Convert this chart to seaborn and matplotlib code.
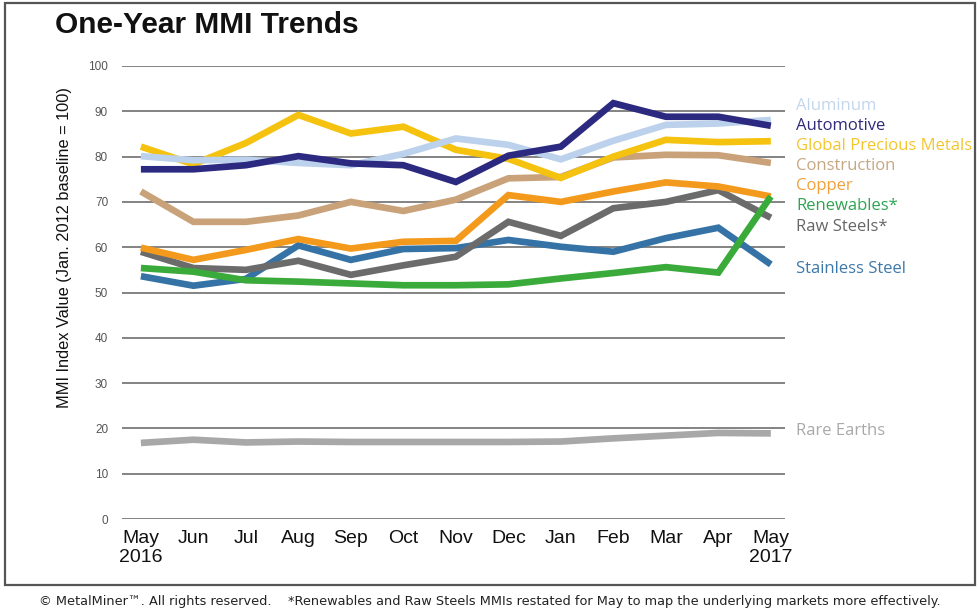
import numpy as np
import pandas as pd
import matplotlib
matplotlib.use("Agg")
import matplotlib.pyplot as plt
import seaborn as sns
from matplotlib import font_manager
from matplotlib.patches import Rectangle

# Datos (valores MMI, mayo 2016 - mayo 2017)
months = ['May\n2016', 'Jun', 'Jul', 'Aug', 'Sep', 'Oct', 'Nov', 'Dec',
          'Jan', 'Feb', 'Mar', 'Apr', 'May\n2017']

aluminum = [80.1, 79.2, 79.3, 78.6, 78.1, 80.6, 84.0, 82.6, 79.4, 83.5, 87.0, 87.3, 88.1]
automotive = [77.2, 77.2, 78.1, 80.1, 78.5, 78.1, 74.4, 80.2, 82.2, 91.8, 88.8, 88.8, 86.8]
precious_metals = [82.2, 78.3, 83.0, 89.2, 85.1, 86.6, 81.5, 79.5, 75.3, 80.0, 83.7, 83.2, 83.4]
construction = [72.3, 65.6, 65.6, 67.0, 70.0, 68.0, 70.5, 75.2, 75.5, 79.8, 80.4, 80.3, 78.6]
copper = [59.9, 57.2, 59.4, 61.8, 59.7, 61.2, 61.4, 71.5, 70.0, 72.3, 74.3, 73.4, 71.2]
renewables = [55.4, 54.6, 52.7, 52.4, 52.0, 51.6, 51.6, 51.8, 53.1, 54.3, 55.6, 54.4, 71.2]
raw_steels = [59.0, 55.4, 55.0, 57.0, 53.9, 56.0, 57.9, 65.6, 62.5, 68.6, 70.0, 72.6, 66.5]
stainless = [53.6, 51.5, 53.0, 60.4, 57.2, 59.6, 59.8, 61.6, 60.1, 59.0, 62.0, 64.3, 56.2]
rare_earths = [16.8, 17.5, 16.9, 17.1, 17.0, 17.0, 17.0, 17.0, 17.1, 17.8, 18.4, 19.0, 18.9]

series = {
    'Rare Earths': rare_earths,
    'Stainless Steel': stainless,
    'Raw Steels*': raw_steels,
    'Copper': copper,
    'Construction': construction,
    'Global Precious Metals': precious_metals,
    'Aluminum': aluminum,
    'Automotive': automotive,
    'Renewables*': renewables,
}

line_colors = {
    'Aluminum': '#bcd2ec',
    'Automotive': '#2c2a80',
    'Global Precious Metals': '#f4c20f',
    'Construction': '#c9a27a',
    'Copper': '#f39a1c',
    'Renewables*': '#3aab3a',
    'Raw Steels*': '#6b6b6b',
    'Stainless Steel': '#3573a6',
    'Rare Earths': '#a8a8a8',
}

label_colors = {
    'Aluminum': '#c4d6ec',
    'Automotive': '#2e2b7c',
    'Global Precious Metals': '#f3c62c',
    'Construction': '#c6a784',
    'Copper': '#f2a03a',
    'Renewables*': '#2ea451',
    'Raw Steels*': '#666666',
    'Stainless Steel': '#3d78a9',
    'Rare Earths': '#a9a9a9',
}

# posicion vertical (px desde arriba) de cada etiqueta a la derecha
label_rows = {
    'Aluminum': 106, 'Automotive': 126, 'Global Precious Metals': 146,
    'Construction': 166, 'Copper': 186, 'Renewables*': 206,
    'Raw Steels*': 227, 'Stainless Steel': 269, 'Rare Earths': 431,
}

df = pd.DataFrame([
    {'serie': name, 'mes': i, 'valor': v}
    for name, vals in series.items()
    for i, v in enumerate(vals)
])

sns.set_style('white')

installed = {f.name for f in font_manager.fontManager.ttflist}
narrow = 'Liberation Sans Narrow' in installed
cond_family = ['Liberation Sans Narrow', 'Liberation Sans'] if narrow else ['Liberation Sans']
plt.rcParams['font.family'] = ['Liberation Sans', 'DejaVu Sans']

W, H = 980, 610
fig = plt.figure(figsize=(W / 100, H / 100), dpi=100)
ax = fig.add_axes([122 / W, 91 / H, 663 / W, 453 / H])

sns.lineplot(data=df, x='mes', y='valor', hue='serie', hue_order=list(series.keys()),
             palette=line_colors, linewidth=4.8, legend=False, ax=ax)
for ln in ax.lines:
    ln.set_solid_capstyle('butt')
    ln.set_solid_joinstyle('miter')

ax.set_xlim(-0.36, 12.27)
ax.set_ylim(0, 100)
ax.set_yticks(np.arange(0, 101, 10))
ax.set_xticks(range(len(months)))
ax.set_xticklabels(months, linespacing=1.15)
ax.yaxis.grid(True, color='#7a7a7a', linewidth=1.3)
ax.set_axisbelow(True)
for s in ax.spines.values():
    s.set_visible(False)

ax.tick_params(axis='y', length=0, pad=10, labelsize=8.5, labelcolor='#555555')
ax.tick_params(axis='x', length=0, pad=8, labelsize=16 if narrow else 14, labelcolor='#111111')
for t in ax.get_xticklabels() + ax.get_yticklabels():
    t.set_family(cond_family)

ax.set_xlabel('')
ax.set_ylabel('MMI Index Value (Jan. 2012 baseline = 100)', fontsize=13.5 if narrow else 11.8,
              family=cond_family, color='#111111')
ax.yaxis.set_label_coords(-0.075, 0.60)

# etiquetas de las series a la derecha
for name, row in label_rows.items():
    fig.text(796 / W, 1 - row / H, name, color=label_colors[name], fontsize=12,
             family=['Open Sans', 'DejaVu Sans'], va='center', ha='left')

fig.text(55 / W, 1 - 25 / H, 'One-Year MMI Trends', fontsize=21.5, fontweight='bold',
         family=['Liberation Sans', 'DejaVu Sans'], va='center', ha='left', color='#111111')

fig.text(0.5, 1 - 601 / H,
         '\u00a9 MetalMiner\u2122. All rights reserved.    *Renewables and Raw Steels MMIs '
         'restated for May to map the underlying markets more effectively.',
         fontsize=9.3, family=['DejaVu Sans'], ha='center', va='center', color='#222222')

fig.patches.append(Rectangle((5 / W, 1 - 585 / H), 970 / W, 582 / H, transform=fig.transFigure,
                             fill=False, edgecolor='#555555', linewidth=1.6))

fig.savefig('out.png', dpi=100)
